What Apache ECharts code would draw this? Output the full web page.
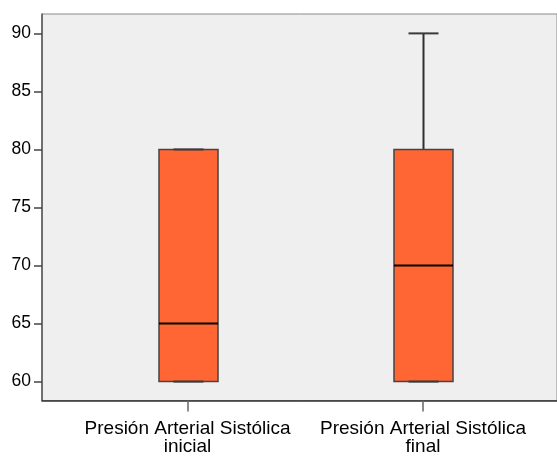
<!DOCTYPE html>
<html>
<head>
<meta charset="utf-8">
<script src="https://cdn.jsdelivr.net/npm/echarts@6/dist/echarts.min.js"></script>
<style>
  html, body { margin: 0; padding: 0; background: #ffffff; }
  #chart { width: 557px; height: 456px; }
</style>
</head>
<body>
<div id="chart"></div>
<script>
// Category labels of the two measurements
const categories = ['Presión Arterial Sistólica\ninicial', 'Presión Arterial Sistólica\nfinal'];
// Five-number summaries per category
const minValues = [60, 60];
const q1Values = [60, 60];
const medianValues = [65, 70];
const q3Values = [80, 80];
const maxValues = [80, 90];
// Y axis tick labels
const yTicks = [60, 65, 70, 75, 80, 85, 90];

const boxData = categories.map((c, i) => [i, minValues[i], q1Values[i], medianValues[i], q3Values[i], maxValues[i]]);

const BOX_HALF = 29.5;   // px
const CAP_HALF = 15;     // px

const chart = echarts.init(document.getElementById('chart'), null, { renderer: 'canvas' });

chart.setOption({
  animation: false,
  backgroundColor: '#ffffff',
  grid: {
    left: 42, right: 0, top: 14, bottom: 53,
    show: true,
    backgroundColor: '#efefef',
    borderColor: '#8a8a8a',
    borderWidth: 1
  },
  xAxis: {
    type: 'value',
    min: -0.618,
    max: 1.569,
    splitLine: { show: false },
    axisLine: { show: true, onZero: false, lineStyle: { color: '#333333', width: 1.5 } },
    axisTick: { show: true, customValues: [0, 1], length: 11, lineStyle: { color: '#666666', width: 1.5 } },
    axisLabel: {
      show: true,
      customValues: [0, 1],
      formatter: v => categories[Math.round(v)],
      margin: 19,
      fontFamily: 'Liberation Sans, Arial, sans-serif',
      fontSize: 19,
      lineHeight: 18,
      color: '#000000',
      align: 'center'
    }
  },
  yAxis: {
    type: 'value',
    min: 58.37,
    max: 91.67,
    splitLine: { show: false },
    axisLine: { show: true, onZero: false, lineStyle: { color: '#555555', width: 1.5 } },
    axisTick: { show: true, customValues: yTicks, length: 8, lineStyle: { color: '#444444', width: 1.5 } },
    axisLabel: {
      show: true,
      customValues: yTicks,
      margin: 11,
      fontFamily: 'Liberation Sans, Arial, sans-serif',
      fontSize: 17.5,
      color: '#000000'
    }
  },
  series: [{
    type: 'custom',
    data: boxData,
    encode: { x: 0, y: [1, 2, 3, 4, 5] },
    renderItem: function (params, api) {
      const x = api.value(0);
      const pMin = api.coord([x, api.value(1)]);
      const pQ1 = api.coord([x, api.value(2)]);
      const pMed = api.coord([x, api.value(3)]);
      const pQ3 = api.coord([x, api.value(4)]);
      const pMax = api.coord([x, api.value(5)]);
      const cx = Math.round(pMed[0]) + 0.5;
      const whisker = { stroke: '#2e2e2e', lineWidth: 2 };
      const cap = { stroke: '#3a3a3a', lineWidth: 2 };
      return {
        type: 'group',
        children: [
          { type: 'line', shape: { x1: cx, y1: pMax[1], x2: cx, y2: pQ3[1] }, style: whisker },
          { type: 'line', shape: { x1: cx, y1: pQ1[1], x2: cx, y2: pMin[1] }, style: whisker },
          {
            type: 'rect',
            shape: { x: cx - BOX_HALF, y: pQ3[1], width: BOX_HALF * 2, height: pQ1[1] - pQ3[1] },
            style: { fill: '#ff6633', stroke: '#444444', lineWidth: 1.5 }
          },
          { type: 'line', shape: { x1: cx - BOX_HALF, y1: pMed[1], x2: cx + BOX_HALF, y2: pMed[1] }, style: { stroke: '#000000', lineWidth: 2 } },
          { type: 'line', shape: { x1: cx - CAP_HALF, y1: pMax[1], x2: cx + CAP_HALF, y2: pMax[1] }, style: cap },
          { type: 'line', shape: { x1: cx - CAP_HALF, y1: pMin[1], x2: cx + CAP_HALF, y2: pMin[1] }, style: cap }
        ]
      };
    }
  }]
});
</script>
</body>
</html>
